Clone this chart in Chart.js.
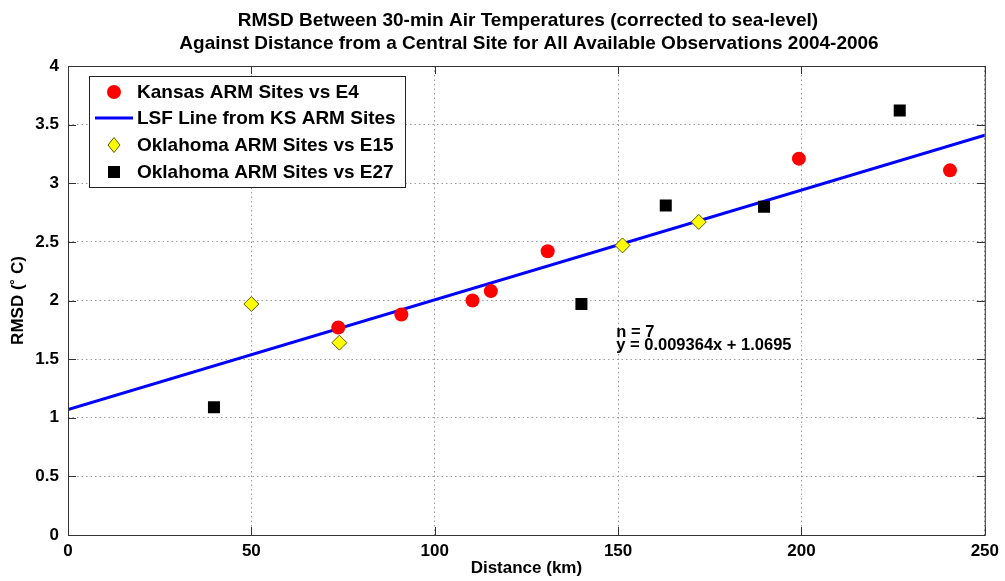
<!DOCTYPE html>
<html>
<head>
<meta charset="utf-8">
<script src="https://cdn.jsdelivr.net/npm/chart.js@4.4.0/dist/chart.umd.min.js"></script>
<style>
  html, body { margin: 0; padding: 0; background: #fff; }
  #wrap { width: 1005px; height: 581px; }
</style>
</head>
<body>
<div id="wrap"><canvas id="graph01"></canvas></div>
<script>
const TITLE_LINES = [
  'RMSD Between 30-min Air Temperatures (corrected to sea-level)',
  'Against Distance from a Central Site for All Available Observations 2004-2006'
];
const X_TICKS = [0, 50, 100, 150, 200, 250];
const Y_TICKS = [0, 0.5, 1, 1.5, 2, 2.5, 3, 3.5, 4];

// Kansas ARM sites vs E4
const kansasX = [73.7, 90.9, 110.3, 115.3, 130.8, 199.3, 240.5];
const kansasY = [1.77, 1.88, 2.00, 2.08, 2.42, 3.21, 3.11];

// least squares fit line end points
const lsfX = [0, 250];
const lsfY = [1.07, 3.41];

// Oklahoma ARM sites vs E15
const okE15X = [50.0, 74.0, 151.2, 172.0];
const okE15Y = [1.97, 1.64, 2.47, 2.67];

// Oklahoma ARM sites vs E27
const okE27X = [39.8, 140.0, 163.0, 189.8, 226.8];
const okE27Y = [1.09, 1.97, 2.81, 2.80, 3.62];

const LABELS = [
  'Kansas ARM Sites vs E4',
  'LSF Line from KS ARM Sites',
  'Oklahoma ARM Sites vs E15',
  'Oklahoma ARM Sites vs E27'
];
const FIT_TEXT = ['n = 7', 'y = 0.009364x + 1.0695'];

const FONT = '"Liberation Sans", Arial, Helvetica, sans-serif';

function pts(xs, ys) {
  return xs.map((x, i) => ({ x: x, y: ys[i] }));
}

function drawMarker(ctx, style, r, x, y) {
  if (style === 'circle') {
    ctx.arc(x, y, r, 0, Math.PI * 2);
  } else if (style === 'rect') {
    const s = r * Math.SQRT1_2;
    ctx.rect(x - s, y - s, 2 * s, 2 * s);
  } else {
    // diamond, a bit taller than wide like the original
    ctx.moveTo(x - r * 0.8, y); ctx.lineTo(x, y + r);
    ctx.lineTo(x + r * 0.8, y); ctx.lineTo(x, y - r);
    ctx.closePath();
  }
}

// title, box, inner ticks, legend and fit text
const decorations = {
  id: 'decorations',
  afterDraw(chart) {
    const ctx = chart.ctx;
    const a = chart.chartArea;
    const xs = chart.scales.x;
    const ys = chart.scales.y;
    ctx.save();

    // title
    ctx.fillStyle = '#000';
    ctx.font = 'bold 19px ' + FONT;
    ctx.textAlign = 'center';
    ctx.textBaseline = 'middle';
    ctx.fillText(TITLE_LINES[0], 528, 21);
    ctx.fillText(TITLE_LINES[1], 529, 44);

    // plot box
    ctx.strokeStyle = '#333';
    ctx.lineWidth = 1;
    ctx.strokeRect(a.left + 0.5, a.top + 0.5, a.right - a.left, a.bottom - a.top);

    // inward tick marks
    ctx.beginPath();
    X_TICKS.forEach(v => {
      const px = Math.round(xs.getPixelForValue(v)) + 0.5;
      ctx.moveTo(px, a.bottom); ctx.lineTo(px, a.bottom - 8);
      ctx.moveTo(px, a.top); ctx.lineTo(px, a.top + 8);
    });
    Y_TICKS.forEach(v => {
      const py = Math.round(ys.getPixelForValue(v)) + 0.5;
      ctx.moveTo(a.left, py); ctx.lineTo(a.left + 8, py);
      ctx.moveTo(a.right, py); ctx.lineTo(a.right - 8, py);
    });
    ctx.stroke();

    // fit annotation
    ctx.font = 'bold 16.5px ' + FONT;
    ctx.textAlign = 'left';
    const tx = xs.getPixelForValue(149.5);
    ctx.fillText(FIT_TEXT[0], tx, ys.getPixelForValue(1.73));
    ctx.fillText(FIT_TEXT[1], tx, ys.getPixelForValue(1.62));

    // legend
    const lx = 89, ly = 76, lw = 316, lh = 111;
    ctx.fillStyle = '#fff';
    ctx.fillRect(lx, ly, lw, lh);
    ctx.strokeStyle = '#222';
    ctx.lineWidth = 1;
    ctx.strokeRect(lx + 0.5, ly + 0.5, lw, lh);
    const rowY = [92, 118, 145, 172];
    chart.data.datasets.forEach((ds, i) => {
      const y = rowY[i];
      if (ds.showLine) {
        ctx.strokeStyle = ds.borderColor;
        ctx.lineWidth = ds.borderWidth;
        ctx.beginPath();
        ctx.moveTo(95, y); ctx.lineTo(133, y);
        ctx.stroke();
      } else {
        ctx.fillStyle = ds.backgroundColor;
        ctx.strokeStyle = ds.borderColor;
        ctx.lineWidth = ds.borderWidth || 1;
        ctx.beginPath();
        drawMarker(ctx, ds.pointStyle, ds.pointRadius, 114, y);
        ctx.fill();
        if (ds.borderWidth) ctx.stroke();
      }
      ctx.fillStyle = '#000';
      ctx.font = 'bold 19px ' + FONT;
      ctx.fillText(ds.label, 137, y + 1);
    });
    ctx.restore();
  }
};

const graph01 = document.getElementById('graph01');

new Chart(graph01, {
  type: 'scatter',
  data: {
    datasets: [
      {
        label: LABELS[0],
        data: pts(kansasX, kansasY),
        pointStyle: 'circle',
        pointRadius: 7,
        backgroundColor: 'rgb(255, 0, 0)',
        borderColor: 'rgb(255, 0, 0)',
        borderWidth: 0,
        order: 1
      },
      {
        label: LABELS[1],
        data: pts(lsfX, lsfY),
        showLine: true,
        pointRadius: 0,
        borderColor: 'rgb(0, 0, 255)',
        backgroundColor: 'rgb(0, 0, 255)',
        borderWidth: 3,
        order: 2
      },
      {
        label: LABELS[2],
        data: pts(okE15X, okE15Y),
        pointStyle: 'rectRot',
        pointRadius: 7.5,
        backgroundColor: 'rgb(255, 255, 0)',
        borderColor: 'rgb(90, 90, 0)',
        borderWidth: 1,
        order: 0
      },
      {
        label: LABELS[3],
        data: pts(okE27X, okE27Y),
        pointStyle: 'rect',
        pointRadius: 8.5,
        backgroundColor: 'rgb(0, 0, 0)',
        borderColor: 'rgb(0, 0, 0)',
        borderWidth: 0,
        order: 0
      }
    ]
  },
  options: {
    responsive: true,
    maintainAspectRatio: false,
    animation: false,
    layout: { padding: { top: 66, right: 18, left: 0, bottom: 0 } },
    plugins: {
      legend: { display: false },
      title: { display: false },
      tooltip: { enabled: false }
    },
    scales: {
      x: {
        type: 'linear',
        min: 0,
        max: 250,
        afterFit: s => { s.height = 46; },
        afterBuildTicks: s => { s.ticks = X_TICKS.map(v => ({ value: v })); },
        grid: { color: '#9a9a9a', drawTicks: false, lineWidth: 1 },
        border: { display: false, dash: [1.5, 3] },
        ticks: {
          color: '#000',
          padding: 6,
          maxRotation: 0,
          callback: v => String(v),
          font: { family: FONT, size: 17, weight: 'bold' }
        },
        title: {
          display: true,
          text: 'Distance (km)',
          color: '#000',
          padding: { top: 0, bottom: 2 },
          font: { family: FONT, size: 17, weight: 'bold' }
        }
      },
      y: {
        type: 'linear',
        min: 0,
        max: 4,
        afterFit: s => { s.width = 68; },
        afterBuildTicks: s => { s.ticks = Y_TICKS.map(v => ({ value: v })); },
        grid: { color: '#9a9a9a', drawTicks: false, lineWidth: 1 },
        border: { display: false, dash: [1.5, 3] },
        ticks: {
          color: '#000',
          padding: 9,
          callback: v => String(v),
          font: { family: FONT, size: 17, weight: 'bold' }
        },
        title: {
          display: true,
          text: 'RMSD (˚ C)',
          color: '#000',
          padding: { top: 8, bottom: 0 },
          font: { family: FONT, size: 17, weight: 'bold' }
        }
      }
    }
  },
  plugins: [decorations]
});
</script>
</body>
</html>
